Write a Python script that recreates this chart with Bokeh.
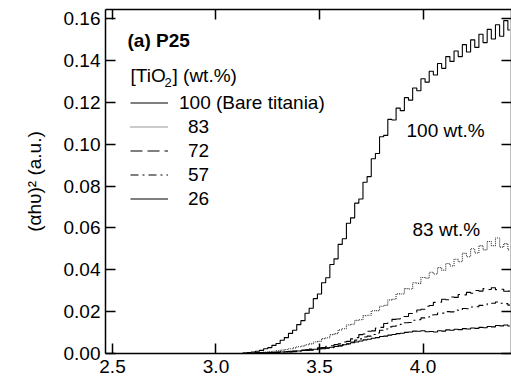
from bokeh.plotting import figure
from bokeh.models import (Legend, LegendItem, Label, LinearAxis, FixedTicker,
                          CustomJSTickFormatter, NumeralTickFormatter, Range1d)
from bokeh.embed import file_html
from bokeh.resources import INLINE

# ---------------- data ----------------
energy = [3.10, 3.12, 3.14, 3.16, 3.18, 3.20, 3.22, 3.24, 3.26, 3.28,
          3.30, 3.32, 3.34, 3.36, 3.38, 3.40, 3.42, 3.44, 3.46, 3.48,
          3.50, 3.52, 3.54, 3.56, 3.58, 3.60, 3.62, 3.64, 3.66, 3.68,
          3.70, 3.72, 3.74, 3.76, 3.78, 3.80, 3.82, 3.84, 3.86, 3.88,
          3.90, 3.92, 3.94, 3.96, 3.98, 4.00, 4.02, 4.04, 4.06, 4.08,
          4.10, 4.12, 4.14, 4.16, 4.18, 4.20, 4.22, 4.24, 4.26, 4.28,
          4.30, 4.32, 4.34, 4.36, 4.38, 4.40, 4.42]

tio2_100 = [0.0000, 0.0000, 0.0002, 0.0004, 0.0007, 0.0011, 0.0015, 0.0023, 0.0028, 0.0039,
            0.0048, 0.0063, 0.0076, 0.0096, 0.0111, 0.0138, 0.0157, 0.0192, 0.0216, 0.0262,
            0.0284, 0.0338, 0.0362, 0.0425, 0.0452, 0.0521, 0.0548, 0.0622, 0.0648, 0.0718,
            0.0738, 0.0818, 0.0845, 0.0930, 0.0955, 0.1035, 0.1042, 0.1118, 0.1115, 0.1172,
            0.1160, 0.1222, 0.1210, 0.1268, 0.1255, 0.1312, 0.1296, 0.1348, 0.1330, 0.1385,
            0.1362, 0.1418, 0.1395, 0.1445, 0.1418, 0.1475, 0.1440, 0.1498, 0.1462, 0.1525,
            0.1485, 0.1548, 0.1502, 0.1570, 0.1515, 0.1590, 0.1545]

tio2_83 = [0.0000, 0.0000, 0.0001, 0.0002, 0.0003, 0.0004, 0.0005, 0.0007, 0.0009, 0.0011,
           0.0013, 0.0016, 0.0019, 0.0023, 0.0027, 0.0032, 0.0035, 0.0042, 0.0046, 0.0055,
           0.0058, 0.0071, 0.0075, 0.0090, 0.0095, 0.0113, 0.0118, 0.0136, 0.0140, 0.0158,
           0.0161, 0.0181, 0.0183, 0.0204, 0.0205, 0.0226, 0.0230, 0.0256, 0.0259, 0.0285,
           0.0284, 0.0310, 0.0308, 0.0338, 0.0335, 0.0363, 0.0360, 0.0388, 0.0380, 0.0410,
           0.0398, 0.0430, 0.0418, 0.0450, 0.0438, 0.0478, 0.0462, 0.0500, 0.0480, 0.0515,
           0.0495, 0.0535, 0.0515, 0.0552, 0.0508, 0.0525, 0.0495]

tio2_72 = [0.0000, 0.0000, 0.0001, 0.0001, 0.0002, 0.0003, 0.0003, 0.0004, 0.0005, 0.0006,
           0.0007, 0.0008, 0.0009, 0.0011, 0.0012, 0.0014, 0.0016, 0.0018, 0.0021, 0.0023,
           0.0027, 0.0029, 0.0034, 0.0037, 0.0043, 0.0046, 0.0055, 0.0058, 0.0070, 0.0076,
           0.0090, 0.0093, 0.0106, 0.0108, 0.0121, 0.0125, 0.0143, 0.0149, 0.0163, 0.0165,
           0.0177, 0.0177, 0.0191, 0.0193, 0.0208, 0.0211, 0.0226, 0.0229, 0.0244, 0.0245,
           0.0259, 0.0257, 0.0270, 0.0268, 0.0282, 0.0280, 0.0292, 0.0288, 0.0301, 0.0298,
           0.0310, 0.0306, 0.0314, 0.0305, 0.0307, 0.0297, 0.0298]

tio2_57 = [0.0000, 0.0000, 0.0000, 0.0001, 0.0001, 0.0002, 0.0002, 0.0003, 0.0003, 0.0004,
           0.0005, 0.0006, 0.0007, 0.0008, 0.0009, 0.0011, 0.0012, 0.0014, 0.0016, 0.0018,
           0.0020, 0.0023, 0.0025, 0.0028, 0.0032, 0.0036, 0.0041, 0.0046, 0.0055, 0.0064,
           0.0070, 0.0079, 0.0083, 0.0091, 0.0098, 0.0111, 0.0117, 0.0127, 0.0130, 0.0138,
           0.0139, 0.0147, 0.0148, 0.0159, 0.0161, 0.0170, 0.0173, 0.0184, 0.0185, 0.0193,
           0.0193, 0.0200, 0.0199, 0.0207, 0.0206, 0.0215, 0.0214, 0.0222, 0.0223, 0.0230,
           0.0232, 0.0239, 0.0240, 0.0246, 0.0240, 0.0238, 0.0231]

tio2_26 = [0.0000, 0.0000, 0.0000, 0.0001, 0.0001, 0.0002, 0.0002, 0.0003, 0.0004, 0.0005,
           0.0006, 0.0007, 0.0008, 0.0009, 0.0011, 0.0012, 0.0014, 0.0016, 0.0018, 0.0020,
           0.0022, 0.0025, 0.0027, 0.0030, 0.0034, 0.0037, 0.0042, 0.0046, 0.0051, 0.0055,
           0.0060, 0.0065, 0.0068, 0.0073, 0.0076, 0.0081, 0.0083, 0.0088, 0.0091, 0.0095,
           0.0097, 0.0101, 0.0103, 0.0107, 0.0106, 0.0109, 0.0104, 0.0105, 0.0103, 0.0109,
           0.0107, 0.0113, 0.0111, 0.0116, 0.0114, 0.0119, 0.0117, 0.0122, 0.0120, 0.0125,
           0.0123, 0.0129, 0.0127, 0.0134, 0.0132, 0.0136, 0.0131]

x_ticks = [2.5, 3.0, 3.5, 4.0]
y_ticks = [0.00, 0.02, 0.04, 0.06, 0.08, 0.10, 0.12, 0.14, 0.16]

legend_first = "100 (Bare titania)"
legend_rest = ["83", "72", "57", "26"]

# ---------------- figure ----------------
FONT = "Liberation Sans"
FS = "19px"
X0, X1 = 2.4662, 4.4275
Y0, Y1 = 0.0, 0.1643
FL, FT, FW, FH = 105, 9, 406, 344

p = figure(width=511, height=383, output_backend="svg", toolbar_location=None,
           x_range=Range1d(X0, X1), y_range=Range1d(Y0, Y1),
           min_border_left=FL, min_border_right=0, min_border_top=FT,
           min_border_bottom=383 - FT - FH)
p.grid.visible = False
p.outline_line_color = None
p.background_fill_color = "white"
p.border_fill_color = "white"


def style_axis(ax, labels=True):
    ax.major_tick_in = 10
    ax.major_tick_out = 0
    ax.minor_tick_line_color = None
    ax.axis_line_width = 1.5
    ax.axis_line_color = "black"
    ax.major_tick_line_width = 1.5
    ax.major_tick_line_color = "black"
    ax.major_label_text_font = FONT
    ax.major_label_text_font_size = FS
    ax.major_label_text_color = "black"
    if not labels:
        ax.formatter = CustomJSTickFormatter(code="return ''")
        ax.major_label_text_font_size = "0px"
        ax.major_label_standoff = 0


p.xaxis.ticker = FixedTicker(ticks=x_ticks)
p.xaxis.formatter = NumeralTickFormatter(format="0.0")
p.yaxis.ticker = FixedTicker(ticks=y_ticks)
p.yaxis.formatter = NumeralTickFormatter(format="0.00")
style_axis(p.xaxis[0])
style_axis(p.yaxis[0])
p.xaxis.major_label_standoff = 6
p.yaxis.major_label_standoff = 5
p.yaxis.axis_label = "(αhυ)² (a.u.)"
p.yaxis.axis_label_text_font = FONT
p.yaxis.axis_label_text_font_size = FS
p.yaxis.axis_label_text_font_style = "normal"
p.yaxis.axis_label_text_color = "black"
p.yaxis.axis_label_standoff = 16

top_ax = LinearAxis(ticker=FixedTicker(ticks=x_ticks))
style_axis(top_ax, labels=False)
p.add_layout(top_ax, "above")
right_ax = LinearAxis(ticker=FixedTicker(ticks=y_ticks))
style_axis(right_ax, labels=False)
p.add_layout(right_ax, "right")

# ---------------- curves ----------------
r100 = p.step(energy, tio2_100, mode="center", line_color="black", line_width=1.1)
r83 = p.step(energy, tio2_83, mode="center", line_color="#333333", line_width=1.1,
             line_dash="1 1")
r72 = p.step(energy, tio2_72, mode="center", line_color="black", line_width=1.1,
             line_dash="12 5")
r57 = p.step(energy, tio2_57, mode="center", line_color="black", line_width=1.1,
             line_dash="8 4 2 4")
r26 = p.step(energy, tio2_26, mode="center", line_color="black", line_width=1.1)


# ---------------- legend ----------------
def make_legend(items, loc, standoff):
    lg = Legend(items=items, location=loc, padding=0, margin=0, spacing=1,
                glyph_width=38, glyph_height=23, label_height=23,
                label_standoff=standoff, border_line_color=None,
                background_fill_alpha=0, label_text_font=FONT,
                label_text_font_size=FS, label_text_color="black")
    return lg


lg1 = make_legend([LegendItem(label=legend_first, renderers=[r100])], (25, 239), 11)
lg2 = make_legend([LegendItem(label=lab, renderers=[r])
                   for lab, r in zip(legend_rest, [r83, r72, r57, r26])], (25, 143), 20)
p.add_layout(lg1)
p.add_layout(lg2)


def dx(px):
    return X0 + (px - FL) / FW * (X1 - X0)


def dy(py):
    return Y1 - (py - FT) / FH * (Y1 - Y0)


def add_text(txt, px, py, size=FS, bold=False):
    p.add_layout(Label(x=dx(px), y=dy(py), text=txt, text_font=FONT,
                       text_font_size=size, text_baseline="middle",
                       text_align="left", text_color="black",
                       text_font_style="bold" if bold else "normal"))


add_text("(a) P25", 127, 40, bold=True)
add_text("[TiO", 130, 75)
add_text("2", 164, 82, size="13px")
add_text("] (wt.%)", 172, 75)
add_text("100 wt.%", 406, 130)
add_text("83 wt.%", 412, 229)

open("out.html", "w").write(file_html(p, INLINE))
